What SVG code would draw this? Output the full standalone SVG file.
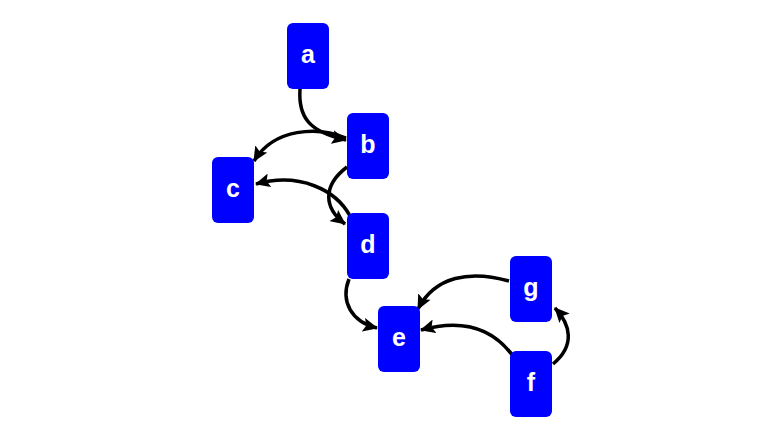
<svg xmlns="http://www.w3.org/2000/svg" width="784" height="441" viewBox="0 0 784 441">
<style>
.n rect{fill:#0000ff;stroke:none}
.n text{fill:#ffffff;font-family:"Liberation Sans",Arial,sans-serif;font-weight:bold;font-size:25px;text-anchor:middle;dominant-baseline:central}
.e path{fill:none;stroke:#000;stroke-width:3.5}
</style>
<defs>
<marker id="ah" viewBox="0 0 15 14" refX="14" refY="7" markerWidth="15" markerHeight="14" markerUnits="userSpaceOnUse" orient="auto">
<path d="M0,0 L15,7 L0,14 L3,7 Z" fill="#000"/>
</marker>
</defs>
<rect width="784" height="441" fill="#fff"/>
<g id="connectors" class="e">
<path d="M300,89 C298,118 310,132 346,140" marker-end="url(#ah)"/>
<path d="M346,138 C318,126 274,128 254,161" marker-end="url(#ah)"/>
<path d="M350,216 C336,190 300,172 256,184" marker-end="url(#ah)"/>
<path d="M347,167 C322,186 324,208 345,224" marker-end="url(#ah)"/>
<path d="M349,279 C340,302 352,322 377,328" marker-end="url(#ah)"/>
<path d="M509,281 C470,270 435,276 418,309" marker-end="url(#ah)"/>
<path d="M513,356 C494,330 464,318 421,330" marker-end="url(#ah)"/>
<path d="M553,364 C576,345 570,324 555,308" marker-end="url(#ah)"/>
</g>
<g id="a" class="n"><rect x="287" y="23" width="42" height="66" rx="6"/><text x="308" y="54">a</text></g>
<g id="b" class="n"><rect x="347" y="113" width="42" height="66" rx="6"/><text x="368" y="144">b</text></g>
<g id="c" class="n"><rect x="212" y="157" width="42" height="66" rx="6"/><text x="233" y="188">c</text></g>
<g id="d" class="n"><rect x="347" y="213" width="42" height="66" rx="6"/><text x="368" y="244">d</text></g>
<g id="e" class="n"><rect x="378" y="306" width="42" height="66" rx="6"/><text x="399" y="337">e</text></g>
<g id="g" class="n"><rect x="510" y="256" width="42" height="66" rx="6"/><text x="531" y="287">g</text></g>
<g id="f" class="n"><rect x="510" y="351" width="42" height="66" rx="6"/><text x="531" y="382">f</text></g>
</svg>
